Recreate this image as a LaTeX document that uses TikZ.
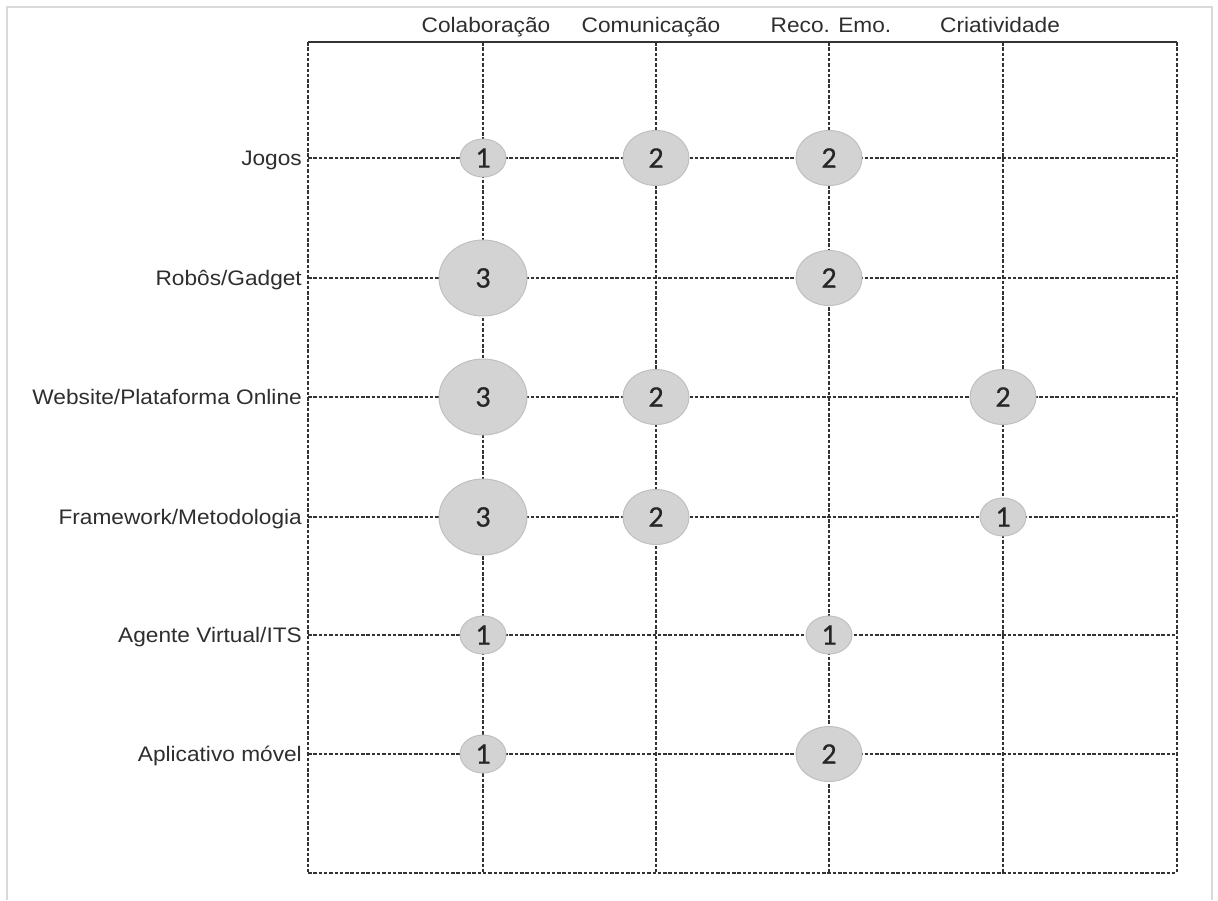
\documentclass[tikz,border=0pt]{standalone}
\usepackage{fontspec}
\setmainfont{Liberation Sans}
\newfontfamily\lblfont[FakeStretch=1.08]{Liberation Sans}
\newfontfamily\numfont[FakeBold=0.6]{Carlito}
\usetikzlibrary{shapes.geometric}
\definecolor{txt}{HTML}{2E2E2E}
\definecolor{gridc}{HTML}{333333}
\definecolor{frame}{HTML}{D9D9D9}
\definecolor{bubfill}{HTML}{D3D3D3}
\definecolor{bubedge}{HTML}{C0C0C0}
\tikzset{
  gridline/.style={draw=gridc, line width=2pt, dash pattern=on 3.5pt off 1.8pt},
  toprule/.style={draw=gridc, line width=2pt},
  collabel/.style={anchor=base, text=txt, font=\lblfont\fontsize{21}{23}\selectfont, inner sep=0pt},
  rowlabel/.style={anchor=base east, text=txt, font=\lblfont\fontsize{21}{23}\selectfont, inner sep=0pt},
  bubble/.style={ellipse, fill=bubfill, draw=bubedge, line width=1pt, inner sep=0pt, text=black!85, font=\numfont\fontsize{30}{32}\selectfont},
  b1/.style={bubble, minimum width=46pt, minimum height=38pt},
  b2/.style={bubble, minimum width=66pt, minimum height=55pt},
  b3/.style={bubble, minimum width=88pt, minimum height=76pt},
}
\begin{document}
\begin{tikzpicture}[x=1pt,y=-1pt]
\useasboundingbox (0,0) rectangle (1218,900);
% outer frame
\draw[frame, line width=2pt] (7,900) -- (7,7) -- (1212,7) -- (1212,900);
% grid coordinates
\foreach \n/\x in {0/308,1/483,2/656,3/829,4/1003,5/1177}{
  \coordinate (ct\n) at (\x,42);
  \coordinate (cb\n) at (\x,873);
}
\foreach \n/\y in {1/158,2/278,3/397,4/517,5/635,6/754}{
  \coordinate (rl\n) at (308,\y);
  \coordinate (rr\n) at (1177,\y);
}
\coordinate (rl7) at (308,873);
\coordinate (rr7) at (1177,873);
% grid
\foreach \n in {0,...,5}{ \draw[gridline] (ct\n) -- (cb\n); }
\foreach \n in {1,...,7}{ \draw[gridline] (rl\n) -- (rr\n); }
\draw[toprule] (ct0) -- (ct5);
% column labels
\node[collabel] (c1) at (486,32) {Colaboração};
\node[collabel] (c2) at (651,32) {Comunicação};
\node[collabel] (c3) at (831,32) {Reco. Emo.};
\node[collabel] (c4) at (1000,32) {Criatividade};
% row labels
\node[rowlabel] (r1) at (302,165) {Jogos};
\node[rowlabel] (r2) at (302,285) {Robôs/Gadget};
\node[rowlabel] (r3) at (302,404) {Website/Plataforma Online};
\node[rowlabel] (r4) at (302,524) {Framework/Metodologia};
\node[rowlabel] (r5) at (302,642) {Agente Virtual/ITS};
\node[rowlabel] (r6) at (302,761) {Aplicativo móvel};
% bubbles
\node[b1] (j1) at (483,158) {1};
\node[b2] (j2) at (656,158) {2};
\node[b2] (j3) at (829,158) {2};
\node[b3] (g1) at (483,278) {3};
\node[b2] (g3) at (829,278) {2};
\node[b3] (w1) at (483,397) {3};
\node[b2] (w2) at (656,397) {2};
\node[b2] (w4) at (1003,397) {2};
\node[b3] (f1) at (483,517) {3};
\node[b2] (f2) at (656,517) {2};
\node[b1] (f4) at (1003,517) {1};
\node[b1] (a1) at (483,635) {1};
\node[b1] (a3) at (829,635) {1};
\node[b1] (m1) at (483,754) {1};
\node[b2] (m3) at (829,754) {2};
\end{tikzpicture}
\end{document}
